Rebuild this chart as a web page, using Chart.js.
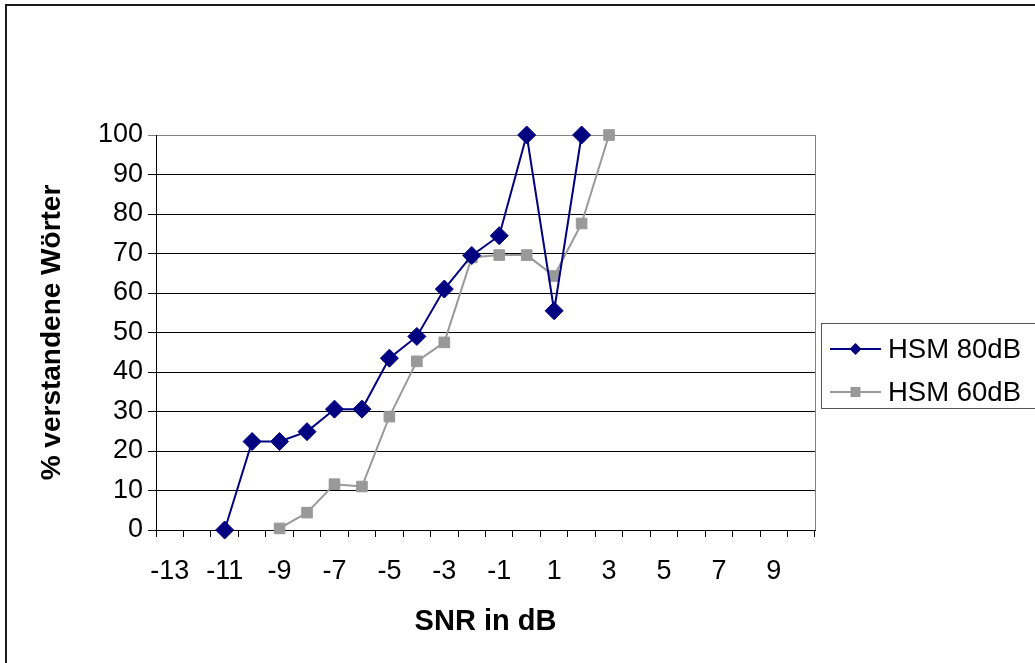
<!DOCTYPE html>
<html>
<head>
<meta charset="utf-8">
<script src="https://cdn.jsdelivr.net/npm/chart.js@4.4.1/dist/chart.umd.min.js"></script>
<style>
  html, body { margin: 0; padding: 0; background: #ffffff; }
  #wrap { width: 1035px; height: 663px; position: relative; }
</style>
</head>
<body>
<div id="wrap"><canvas id="c" width="1035" height="663"></canvas></div>
<script>
// ---- data ----
const categories = [-13, -12, -11, -10, -9, -8, -7, -6, -5, -4, -3, -2, -1, 0, 1, 2, 3, 4, 5, 6, 7, 8, 9, 10];
const hsm80 = [null, null, 0, 22.4, 22.4, 24.9, 30.6, 30.6, 43.5, 49, 61, 69.5, 74.5, 100, 55.5, 100, null, null, null, null, null, null, null, null];
const hsm60 = [null, null, null, null, 0.4, 4.4, 11.6, 11.0, 28.7, 42.7, 47.5, 69.0, 69.6, 69.6, 64.3, 77.6, 100, null, null, null, null, null, null, null];
const seriesNames = ['HSM 80dB', 'HSM 60dB'];
const yTicks = { min: 0, max: 100, step: 10 };
const xTitle = 'SNR in dB';
const yTitle = '% verstandene Wörter';

const FONT = "'Liberation Sans', Arial, sans-serif";
const NAVY = '#000080';
const GREY = '#999999';

const frame = {
  id: 'frame',
  beforeDraw(chart) {
    const ctx = chart.ctx;
    ctx.save();
    ctx.fillStyle = '#ffffff';
    ctx.fillRect(0, 0, chart.width, chart.height);
    ctx.strokeStyle = '#1a1a1a';
    ctx.lineWidth = 2;
    ctx.strokeRect(6, 5, 1100, 1100);
    ctx.restore();
  },
  beforeDatasetsDraw(chart) {
    const ctx = chart.ctx;
    const a = chart.chartArea;
    ctx.save();
    ctx.strokeStyle = '#808080';
    ctx.lineWidth = 1;
    ctx.beginPath();
    ctx.moveTo(Math.round(a.right) + 0.5, a.top);
    ctx.lineTo(Math.round(a.right) + 0.5, a.bottom);
    ctx.stroke();
    ctx.restore();
  },
  afterDraw(chart) {
    const ctx = chart.ctx;
    ctx.save();
    // legend box
    const bx = 821.5, by = 323.5, bh = 85;
    ctx.strokeStyle = '#555555';
    ctx.lineWidth = 1;
    ctx.strokeRect(bx, by, 400, bh);
    const rows = [349, 392];
    chart.data.datasets.forEach((ds, i) => {
      const y = rows[i];
      ctx.strokeStyle = ds.borderColor;
      ctx.lineWidth = ds.borderWidth;
      ctx.beginPath();
      ctx.moveTo(830, y);
      ctx.lineTo(881, y);
      ctx.stroke();
      ctx.fillStyle = ds.pointBackgroundColor;
      ctx.beginPath();
      if (ds.pointStyle === 'rectRot') {
        const r = 6;
        ctx.moveTo(855.5, y - r); ctx.lineTo(855.5 + r, y); ctx.lineTo(855.5, y + r); ctx.lineTo(855.5 - r, y); ctx.closePath();
      } else {
        const s = 5;
        ctx.rect(855.5 - s, y - s, 2 * s, 2 * s);
      }
      ctx.fill();
      ctx.fillStyle = '#000000';
      ctx.font = '27.5px ' + FONT;
      ctx.textBaseline = 'middle';
      ctx.textAlign = 'left';
      ctx.fillText(ds.label, 888, y + 1);
    });
    ctx.restore();
  }
};

new Chart(document.getElementById('c'), {
  type: 'line',
  data: {
    labels: categories.map(String),
    datasets: [
      {
        label: seriesNames[0],
        data: hsm80,
        borderColor: NAVY,
        backgroundColor: NAVY,
        pointBackgroundColor: NAVY,
        pointBorderColor: NAVY,
        borderWidth: 2,
        pointStyle: 'rectRot',
        pointRadius: 9,
        pointBorderWidth: 1,
        spanGaps: false,
        tension: 0,
        clip: false
      },
      {
        label: seriesNames[1],
        data: hsm60,
        borderColor: GREY,
        backgroundColor: GREY,
        pointBackgroundColor: GREY,
        pointBorderColor: GREY,
        borderWidth: 2,
        pointStyle: 'rect',
        pointRadius: 7.5,
        pointBorderWidth: 1,
        spanGaps: false,
        tension: 0,
        clip: false
      }
    ]
  },
  options: {
    responsive: false,
    animation: false,
    devicePixelRatio: 1,
    layout: { padding: { left: 0, right: 220, top: 135, bottom: 0 } },
    plugins: {
      legend: { display: false },
      tooltip: { enabled: false }
    },
    scales: {
      x: {
        type: 'category',
        offset: true,
        afterFit(scale) { scale.height = 133; },
        grid: {
          offset: true,
          drawOnChartArea: false,
          drawTicks: true,
          tickLength: 7,
          color: '#000000',
          lineWidth: 1
        },
        border: { display: true, color: '#000000', width: 1 },
        ticks: {
          autoSkip: false,
          maxRotation: 0,
          minRotation: 0,
          padding: 18,
          color: '#000000',
          font: { family: FONT, size: 27 },
          callback(value, index) { return index % 2 === 0 ? this.getLabelForValue(value) : ''; }
        },
        title: {
          display: true,
          text: xTitle,
          color: '#000000',
          font: { family: FONT, size: 29, weight: 'bold' },
          padding: { top: 0, bottom: 24 }
        }
      },
      y: {
        min: yTicks.min,
        max: yTicks.max,
        afterFit(scale) { scale.width = 156; },
        grid: {
          drawOnChartArea: true,
          drawTicks: true,
          tickLength: 8,
          color(ctx) { return ctx.tick && ctx.tick.value === 100 ? '#808080' : '#000000'; },
          lineWidth: 1
        },
        border: { display: true, color: '#000000', width: 1 },
        ticks: {
          stepSize: yTicks.step,
          padding: 5,
          color: '#000000',
          font: { family: FONT, size: 27 }
        },
        title: {
          display: true,
          text: yTitle,
          color: '#000000',
          font: { family: FONT, size: 28, weight: 'bold' },
          padding: { top: 35, bottom: 0 }
        }
      }
    }
  },
  plugins: [frame]
});
</script>
</body>
</html>
